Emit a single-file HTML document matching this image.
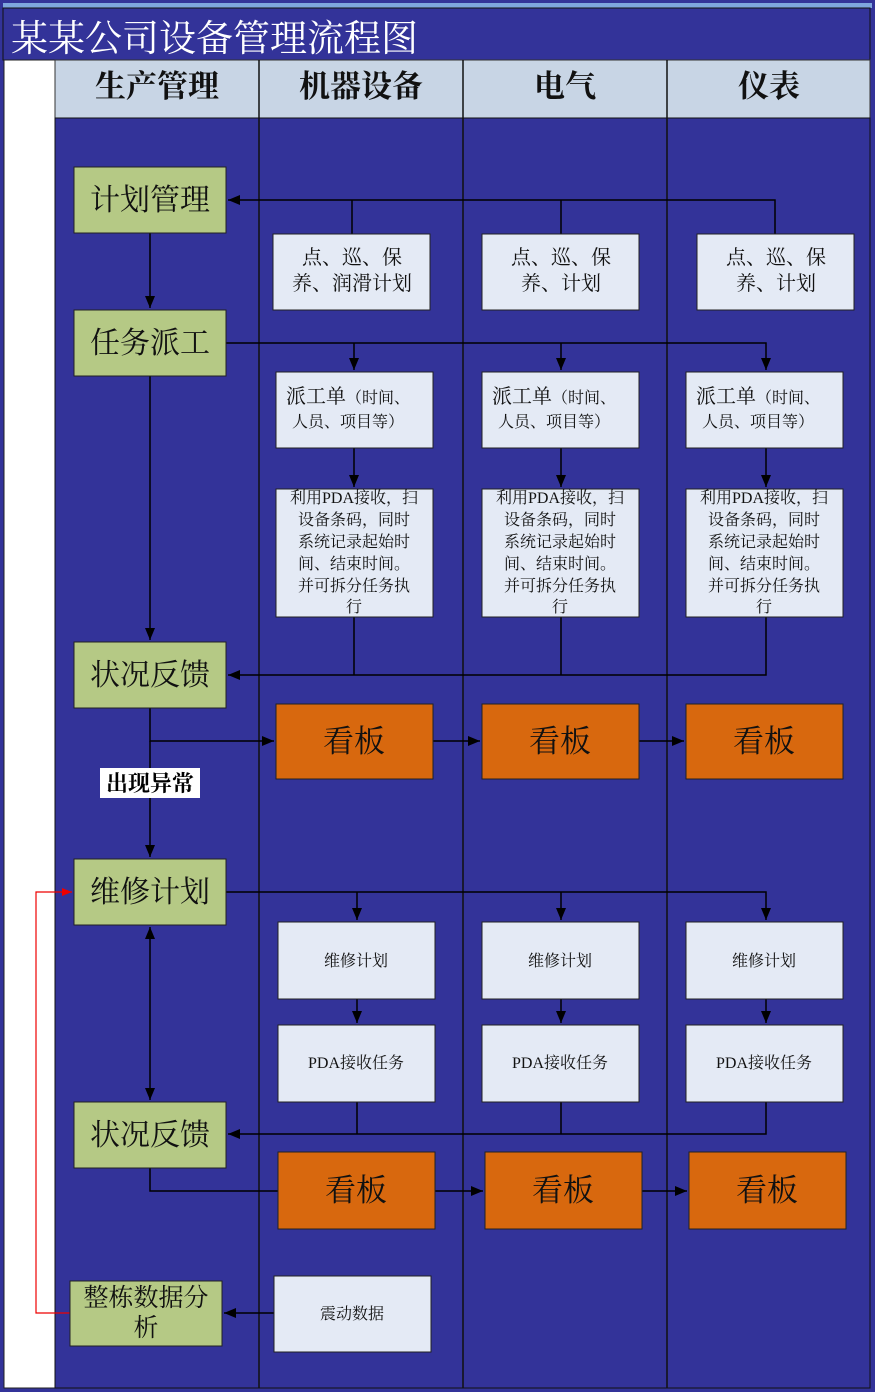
<!DOCTYPE html>
<html><head><meta charset="utf-8"><style>
html,body{margin:0;padding:0;background:#fff}
svg{display:block}
text{font-family:"Liberation Serif","Noto Serif CJK SC","Noto Sans CJK SC",serif}
</style></head><body>
<svg width="875" height="1392" viewBox="0 0 875 1392" xmlns="http://www.w3.org/2000/svg">
<defs>
<marker id="a" markerWidth="12" markerHeight="10" refX="12" refY="5" orient="auto" markerUnits="userSpaceOnUse"><path d="M0,0L12,5L0,10z" fill="#000"/></marker>
<marker id="r" markerWidth="10" markerHeight="8" refX="10" refY="4" orient="auto" markerUnits="userSpaceOnUse"><path d="M0,0L10,4L0,8z" fill="#e00"/></marker>
<marker id="s" markerWidth="12" markerHeight="10" refX="0" refY="5" orient="auto" markerUnits="userSpaceOnUse"><path d="M12,0L0,5L12,10z" fill="#000"/></marker>
</defs>
<rect x="0" y="0" width="875" height="1392" fill="#333399"/>
<rect x="3" y="3" width="869" height="5" fill="#7ea6de"/>
<rect x="3" y="8" width="867" height="52" fill="#333399" stroke="#111" stroke-width="1"/>
<text x="11" y="51" font-size="37" fill="#fff">某某公司设备管理流程图</text>
<rect x="4" y="60" width="51" height="1328" fill="#fff" stroke="#222"/>
<rect x="55" y="60" width="815" height="58" fill="#c8d5e5" stroke="#333"/>
<rect x="55" y="118" width="815" height="1270" fill="#333399" stroke="#111"/>
<g stroke="#111" stroke-width="1.5"><line x1="259" y1="60" x2="259" y2="1388"/><line x1="463" y1="60" x2="463" y2="1388"/><line x1="667" y1="60" x2="667" y2="1388"/></g>
<g font-size="31" fill="#111" text-anchor="middle" font-weight="bold"><text x="157" y="97">生产管理</text><text x="361" y="97">机器设备</text><text x="565" y="97">电气</text><text x="769" y="97">仪表</text></g>

<g stroke="#000" stroke-width="1.5" fill="none">
<path d="M775,234V200H228" marker-end="url(#a)"/><path d="M352,234V200M561,234V200"/>
<path d="M150,233V308" marker-end="url(#a)"/>
<path d="M226,343H766V370" marker-end="url(#a)"/><path d="M354,343V370" marker-end="url(#a)"/><path d="M561,343V370" marker-end="url(#a)"/>
<path d="M354,448V487" marker-end="url(#a)"/><path d="M561,448V487" marker-end="url(#a)"/><path d="M766,448V487" marker-end="url(#a)"/>
<path d="M150,376V640" marker-end="url(#a)"/>
<path d="M766,617V675H228" marker-end="url(#a)"/><path d="M354,617V675M561,617V675"/>
<path d="M150,708V741H274" marker-end="url(#a)"/><path d="M433,741H480" marker-end="url(#a)"/><path d="M639,741H684" marker-end="url(#a)"/>
<path d="M150,741V857" marker-end="url(#a)"/>
<path d="M226,892H766V920" marker-end="url(#a)"/><path d="M357,892V920" marker-end="url(#a)"/><path d="M561,892V920" marker-end="url(#a)"/>
<path d="M357,999V1023" marker-end="url(#a)"/><path d="M561,999V1023" marker-end="url(#a)"/><path d="M766,999V1023" marker-end="url(#a)"/>
<path d="M150,927V1100" marker-start="url(#s)" marker-end="url(#a)"/>
<path d="M766,1102V1134H228" marker-end="url(#a)"/><path d="M357,1102V1134M561,1102V1134"/>
<path d="M150,1168V1191H278"/><path d="M435,1191H483" marker-end="url(#a)"/><path d="M642,1191H687" marker-end="url(#a)"/>
<path d="M274,1313H224" marker-end="url(#a)"/>
</g>
<path d="M70,1313H36V892H72" stroke="#e00" stroke-width="1.2" fill="none" marker-end="url(#r)"/>

<g fill="#b5c985" stroke="#222" stroke-width="1">
<rect x="74" y="167" width="152" height="66"/><rect x="74" y="310" width="152" height="66"/><rect x="74" y="642" width="152" height="66"/><rect x="74" y="859" width="152" height="66"/><rect x="74" y="1102" width="152" height="66"/><rect x="70" y="1281" width="152" height="65"/>
</g>
<g font-size="30" fill="#111" text-anchor="middle">
<text x="150" y="210">计划管理</text><text x="150" y="353">任务派工</text><text x="150" y="685">状况反馈</text><text x="150" y="902">维修计划</text><text x="150" y="1145">状况反馈</text>
</g>
<g font-size="25" fill="#111" text-anchor="middle"><text x="146" y="1306">整栋数据分</text><text x="146" y="1336">析</text></g>

<g fill="#e4eaf5" stroke="#222" stroke-width="1">
<rect x="273" y="234" width="157" height="76"/><rect x="482" y="234" width="157" height="76"/><rect x="697" y="234" width="157" height="76"/>
<rect x="276" y="372" width="157" height="76"/><rect x="482" y="372" width="157" height="76"/><rect x="686" y="372" width="157" height="76"/>
<rect x="276" y="489" width="157" height="128"/><rect x="482" y="489" width="157" height="128"/><rect x="686" y="489" width="157" height="128"/>
<rect x="278" y="922" width="157" height="77"/><rect x="482" y="922" width="157" height="77"/><rect x="686" y="922" width="157" height="77"/>
<rect x="278" y="1025" width="157" height="77"/><rect x="482" y="1025" width="157" height="77"/><rect x="686" y="1025" width="157" height="77"/>
<rect x="274" y="1276" width="157" height="76"/>
</g>
<g fill="#d8680e" stroke="#222" stroke-width="1">
<rect x="276" y="704" width="157" height="75"/><rect x="482" y="704" width="157" height="75"/><rect x="686" y="704" width="157" height="75"/>
<rect x="278" y="1152" width="157" height="77"/><rect x="485" y="1152" width="157" height="77"/><rect x="689" y="1152" width="157" height="77"/>
</g>
<g font-size="31" fill="#111" text-anchor="middle">
<text x="354" y="752">看板</text><text x="560" y="752">看板</text><text x="764" y="752">看板</text>
<text x="356" y="1201">看板</text><text x="563" y="1201">看板</text><text x="767" y="1201">看板</text>
</g>
<g font-size="20" fill="#111" text-anchor="middle">
<text x="352" y="264">点、巡、保</text><text x="352" y="290">养、润滑计划</text>
<text x="561" y="264">点、巡、保</text><text x="561" y="290">养、计划</text>
<text x="776" y="264">点、巡、保</text><text x="776" y="290">养、计划</text>
</g>
<g fill="#111" font-size="16">
<text x="286" y="403"><tspan font-size="20">派工单</tspan>（时间、</text><text x="292" y="427">人员、项目等）</text>
<text x="492" y="403"><tspan font-size="20">派工单</tspan>（时间、</text><text x="498" y="427">人员、项目等）</text>
<text x="696" y="403"><tspan font-size="20">派工单</tspan>（时间、</text><text x="702" y="427">人员、项目等）</text>
</g>
<g fill="#111" font-size="16" text-anchor="middle">
<text x="354" y="503">利用PDA接收，扫</text><text x="354" y="525">设备条码，同时</text><text x="354" y="547">系统记录起始时</text><text x="354" y="569">间、结束时间。</text><text x="354" y="591">并可拆分任务执</text><text x="354" y="612">行</text>
<text x="560" y="503">利用PDA接收，扫</text><text x="560" y="525">设备条码，同时</text><text x="560" y="547">系统记录起始时</text><text x="560" y="569">间、结束时间。</text><text x="560" y="591">并可拆分任务执</text><text x="560" y="612">行</text>
<text x="764" y="503">利用PDA接收，扫</text><text x="764" y="525">设备条码，同时</text><text x="764" y="547">系统记录起始时</text><text x="764" y="569">间、结束时间。</text><text x="764" y="591">并可拆分任务执</text><text x="764" y="612">行</text>
<text x="356" y="966">维修计划</text><text x="560" y="966">维修计划</text><text x="764" y="966">维修计划</text>
<text x="356" y="1068">PDA接收任务</text><text x="560" y="1068">PDA接收任务</text><text x="764" y="1068">PDA接收任务</text>
<text x="352" y="1319">震动数据</text>
</g>
<rect x="100" y="768" width="100" height="30" fill="#fff"/>
<text x="150" y="791" font-size="22" fill="#000" text-anchor="middle" font-weight="bold">出现异常</text>
</svg>
</body></html>
